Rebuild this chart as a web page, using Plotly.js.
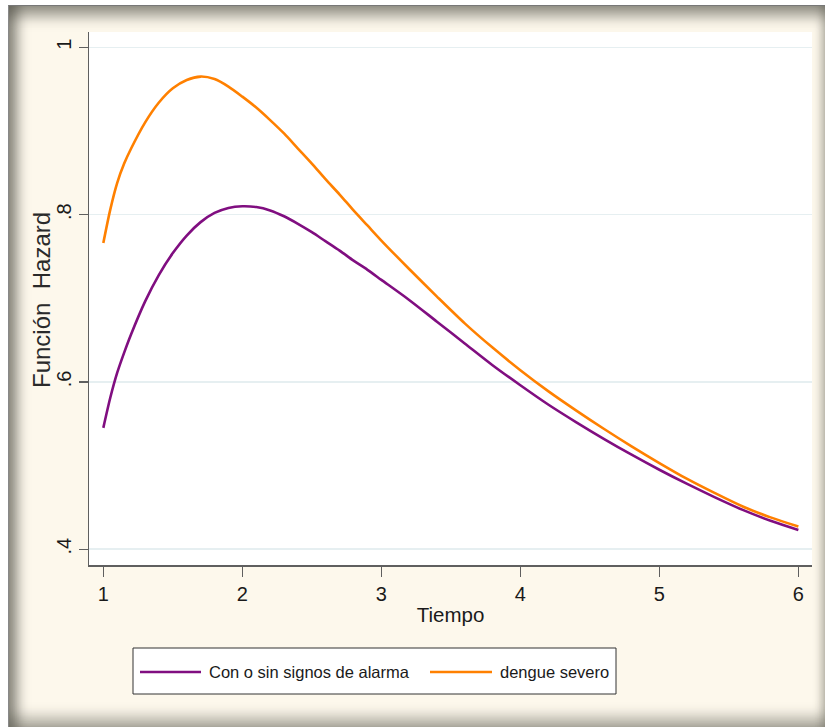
<!DOCTYPE html>
<html>
<head>
<meta charset="utf-8">
<script src="https://cdn.plot.ly/plotly-3.0.1.min.js"></script>
<style>
  html, body { margin: 0; padding: 0; background: #ffffff; }
  #frame {
    position: absolute; left: 8px; top: 5px; width: 817px; height: 722px;
    background: #FDF8EC;
    box-shadow:
      inset 0 16px 14px -6px rgba(70,70,60,0.55),
      inset 14px 0 12px -5px rgba(70,70,60,0.55),
      inset 0 -16px 14px -6px rgba(70,70,60,0.40),
      inset -9px 0 8px -5px rgba(70,70,60,0.25);
    border-top: 1px solid #777; border-left: 1px solid #888;
    box-sizing: border-box;
  }
  #chart { position: absolute; left: 0; top: 0; width: 825px; height: 727px; }
</style>
</head>
<body>
<div id="frame"></div>
<div id="chart"></div>
<script>
// ---- data ----
const seriesNames = ["Con o sin signos de alarma", "dengue severo"];

const tiempo = [1.00, 1.05, 1.10, 1.15, 1.20, 1.30, 1.40, 1.50, 1.60, 1.70, 1.80, 1.90,
                2.00, 2.10, 2.20, 2.30, 2.40, 2.50, 2.60, 2.70, 2.80, 2.90, 3.00, 3.20, 3.40, 3.60, 3.80,
                4.00, 4.20, 4.40, 4.60, 4.80, 5.00, 5.20, 5.40, 5.60, 5.80, 6.00];

const hazardAlarma = [0.545, 0.581, 0.611, 0.635, 0.657, 0.696, 0.728, 0.754, 0.775, 0.791, 0.802, 0.808,
                      0.810, 0.809, 0.805, 0.798, 0.789, 0.779, 0.768, 0.757, 0.745, 0.734, 0.722, 0.698, 0.672, 0.646, 0.620,
                      0.596, 0.573, 0.552, 0.532, 0.513, 0.495, 0.478, 0.462, 0.447, 0.434, 0.423];

const hazardSevero = [0.766, 0.806, 0.838, 0.861, 0.879, 0.910, 0.934, 0.951, 0.961, 0.965, 0.962, 0.953,
                      0.941, 0.928, 0.913, 0.897, 0.879, 0.861, 0.842, 0.824, 0.805, 0.787, 0.769, 0.735, 0.702, 0.670, 0.641,
                      0.614, 0.589, 0.566, 0.544, 0.523, 0.503, 0.484, 0.467, 0.451, 0.438, 0.427];

const xTickVals = [1, 2, 3, 4, 5, 6];
const xTickText = ["1", "2", "3", "4", "5", "6"];
const yTickVals = [0.4, 0.6, 0.8, 1.0];
const yTickText = [".4", ".6", ".8", "1"];

const xTitle = "Tiempo";
const yTitle = "Función\u00A0\u00A0Hazard";

// ---- styles ----
const colors = ["#800E80", "#FF8000"];
const font = "'Liberation Sans', Arial, sans-serif";
const textColor = "#1a1a1a";

const traces = [
  { x: tiempo, y: hazardAlarma, name: seriesNames[0], type: "scatter", mode: "lines",
    line: { color: colors[0], width: 2.6, shape: "spline", smoothing: 0.8 } },
  { x: tiempo, y: hazardSevero, name: seriesNames[1], type: "scatter", mode: "lines",
    line: { color: colors[1], width: 2.6, shape: "spline", smoothing: 0.8 } }
];

// legend geometry (paper coords)
const px2x = p => (p - 89) / 723;
const px2y = p => (565 - p) / 533;
const legY = px2y(672);

const shapes = [
  { type: "rect", xref: "paper", yref: "paper", x0: px2x(133), x1: px2x(616), y0: px2y(694), y1: px2y(648),
    line: { color: "#333333", width: 1 }, fillcolor: "#ffffff", layer: "below" },
  { type: "line", xref: "paper", yref: "paper", x0: px2x(140), x1: px2x(201), y0: legY, y1: legY,
    line: { color: colors[0], width: 2.6 } },
  { type: "line", xref: "paper", yref: "paper", x0: px2x(430), x1: px2x(492), y0: legY, y1: legY,
    line: { color: colors[1], width: 2.6 } }
];

const annotations = [
  { xref: "paper", yref: "paper", x: px2x(207), y: legY, xanchor: "left", yanchor: "middle",
    text: seriesNames[0], showarrow: false, font: { family: font, size: 16.5, color: textColor } },
  { xref: "paper", yref: "paper", x: px2x(498), y: legY, xanchor: "left", yanchor: "middle",
    text: seriesNames[1], showarrow: false, font: { family: font, size: 16.5, color: textColor } },
  { xref: "paper", yref: "paper", x: px2x(41), y: px2y(300), xanchor: "center", yanchor: "middle",
    textangle: -90, text: yTitle, showarrow: false, font: { family: font, size: 24, color: "#2a2a2a" } }
];

const layout = {
  width: 825, height: 727,
  margin: { l: 89, r: 13, t: 32, b: 162, pad: 0 },
  paper_bgcolor: "rgba(0,0,0,0)",
  plot_bgcolor: "#ffffff",
  showlegend: false,
  xaxis: {
    range: [0.897, 6.098], tickmode: "array", tickvals: xTickVals, ticktext: xTickText,
    showgrid: false, zeroline: false,
    showline: true, linecolor: "#5f5f5f", linewidth: 1.5,
    ticks: "outside", ticklen: 10, tickwidth: 1.3, tickcolor: "#5f5f5f",
    tickfont: { family: font, size: 20, color: textColor },
    title: { text: xTitle, font: { family: font, size: 20.5, color: textColor }, standoff: 4 },
    automargin: false
  },
  yaxis: {
    range: [0.3811, 1.0183], tickmode: "array", tickvals: yTickVals, ticktext: yTickText,
    showgrid: true, gridcolor: "#E6EFF1", gridwidth: 1.6, zeroline: false,
    showline: true, linecolor: "#5f5f5f", linewidth: 1.5,
    ticks: "outside", ticklen: 9, tickwidth: 1.3, tickcolor: "#5f5f5f",
    tickangle: -90,
    tickfont: { family: font, size: 20, color: textColor },
    automargin: false
  },
  shapes: shapes,
  annotations: annotations
};

Plotly.newPlot("chart", traces, layout, { displayModeBar: false, staticPlot: true });
</script>
</body>
</html>
